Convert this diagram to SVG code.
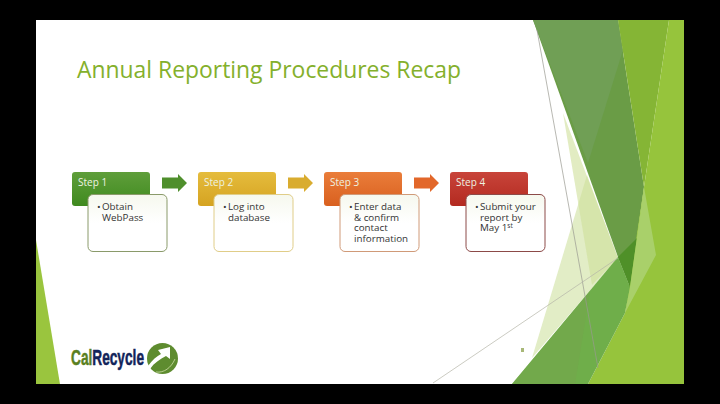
<svg xmlns="http://www.w3.org/2000/svg" width="720" height="404" viewBox="0 0 720 404">
<style>
.hd{font-family:"Open Sans","Noto Sans",sans-serif;font-size:10px;fill:#eef3e2}
.bd{font-family:"Open Sans","Noto Sans",sans-serif;font-size:9.8px;fill:#333}
.box{fill:url(#bx);stroke-width:1}
</style>
<defs>
<linearGradient id="g1" x1="0" y1="0" x2="0" y2="1"><stop offset="0" stop-color="#5f9e3a"/><stop offset="1" stop-color="#3f8a1f"/></linearGradient>
<linearGradient id="g2" x1="0" y1="0" x2="0" y2="1"><stop offset="0" stop-color="#e5bc3d"/><stop offset="1" stop-color="#d5a321"/></linearGradient>
<linearGradient id="g3" x1="0" y1="0" x2="0" y2="1"><stop offset="0" stop-color="#ea7d3a"/><stop offset="1" stop-color="#d9601f"/></linearGradient>
<linearGradient id="g4" x1="0" y1="0" x2="0" y2="1"><stop offset="0" stop-color="#c8443a"/><stop offset="1" stop-color="#b32a20"/></linearGradient>
<linearGradient id="bx" x1="0" y1="0" x2="0" y2="1"><stop offset="0" stop-color="#f6f8ee"/><stop offset="0.5" stop-color="#ffffff"/></linearGradient>
<path id="arr" d="M0 3.5H16V0L25 9L16 18V14.5H0Z"/>
</defs>
<rect width="720" height="404" fill="#000"/>
<rect x="36" y="20" width="648" height="364" fill="#fff"/>
<g id="decor">
<path d="M36 240L60 384H36Z" fill="#9ac53e"/>
<path d="M587 175L532 358L618 258Z" fill="#e2edc6"/>
<path d="M563 113L618 258L592 285Z" fill="#cfe09a" opacity="0.6"/>
<path d="M533 20H618L644 187L630 287L618 257Z" fill="#6a9c46"/>
<path d="M533 20H618L623 50L588 163Z" fill="#709f55"/>
<path d="M618 20H669L644 187Z" fill="#85b535"/>
<path d="M669 20H684V384H588L625 313L644 187Z" fill="#96c43c"/>
<path d="M512 384L618 257L630 287L625 313L588 384Z" fill="#6fae4a"/>
<path d="M512 384L590 291L575 384Z" fill="#74a74c" opacity="0.7"/>
<path d="M618 257L637 238L630 287Z" fill="#4f9028"/>
<path d="M644 187L656 255L625 313L630 287Z" fill="#a9d06a"/>
<line x1="537" y1="30" x2="598" y2="368" stroke="#9a9a90" stroke-width="0.7"/>
<line x1="433" y1="383" x2="618" y2="258" stroke="#b5b5a8" stroke-width="0.7"/>
<rect x="521" y="348" width="3" height="4" fill="#a8b878"/>
</g>
<text x="77" y="78" font-family="'Open Sans','Noto Sans',sans-serif" font-size="24.500" fill="#84b02c" textLength="384" lengthAdjust="spacingAndGlyphs">Annual Reporting Procedures Recap</text>
<g id="connectors">
<use href="#arr" x="162" y="174" fill="#4f8f2c"/>
<use href="#arr" x="288" y="174" fill="#d9ac2f"/>
<use href="#arr" x="414" y="174" fill="#e2672a"/>
</g>
<g id="step1">
<rect x="72" y="172" width="78" height="34" rx="3" fill="url(#g1)"/>
<text class="hd" x="78" y="186">Step 1</text>
<rect class="box" x="88" y="194.500" width="79" height="57" rx="5" stroke="#8a9a6a"/>
<text class="bd"><tspan x="97" y="210">•</tspan><tspan x="102" y="210">Obtain</tspan><tspan x="102" y="220.500">WebPass</tspan></text>
</g>
<g id="step2">
<rect x="198" y="172" width="78" height="34" rx="3" fill="url(#g2)"/>
<text class="hd" x="204" y="186">Step 2</text>
<rect class="box" x="214" y="194.500" width="79" height="57" rx="5" stroke="#e0cd88"/>
<text class="bd"><tspan x="223" y="210">•</tspan><tspan x="228" y="210">Log into</tspan><tspan x="228" y="220.500">database</tspan></text>
</g>
<g id="step3">
<rect x="324" y="172" width="78" height="34" rx="3" fill="url(#g3)"/>
<text class="hd" x="330" y="186">Step 3</text>
<rect class="box" x="340" y="194.500" width="79" height="57" rx="5" stroke="#d09a78"/>
<text class="bd"><tspan x="349" y="210">•</tspan><tspan x="354" y="210">Enter data</tspan><tspan x="354" y="220.500">&amp; confirm</tspan><tspan x="354" y="231">contact</tspan><tspan x="354" y="241.500">information</tspan></text>
</g>
<g id="step4">
<rect x="450" y="172" width="78" height="34" rx="3" fill="url(#g4)"/>
<text class="hd" x="456" y="186">Step 4</text>
<rect class="box" x="466" y="194.500" width="79" height="57" rx="5" stroke="#8c4a48"/>
<text class="bd"><tspan x="475" y="210">•</tspan><tspan x="480" y="210">Submit your</tspan><tspan x="480" y="220.500">report by</tspan><tspan x="480" y="231">May 1</tspan><tspan dy="-3" font-size="6.500">st</tspan></text>
</g>
<g id="logo">
<text x="71" y="365" font-family="'Liberation Sans',Arial,sans-serif" font-weight="700" font-size="21.500" stroke-width="0.5" textLength="73" lengthAdjust="spacingAndGlyphs"><tspan fill="#5a7f1f" stroke="#5a7f1f">Cal</tspan><tspan fill="#12245a" stroke="#12245a">Recycle</tspan></text>
<circle cx="162.500" cy="358.500" r="15.500" fill="#5e8c2f"/>
<path d="M148 366C152 360 157 356 161 354L158 350L170 347L170 359L166 356C160 359 154 363 150 369Z" fill="#fff"/>
<path d="M156 372C164 373 171 368 175 359" fill="none" stroke="#cfe0a8" stroke-width="0.8"/>
</g>
</svg>
